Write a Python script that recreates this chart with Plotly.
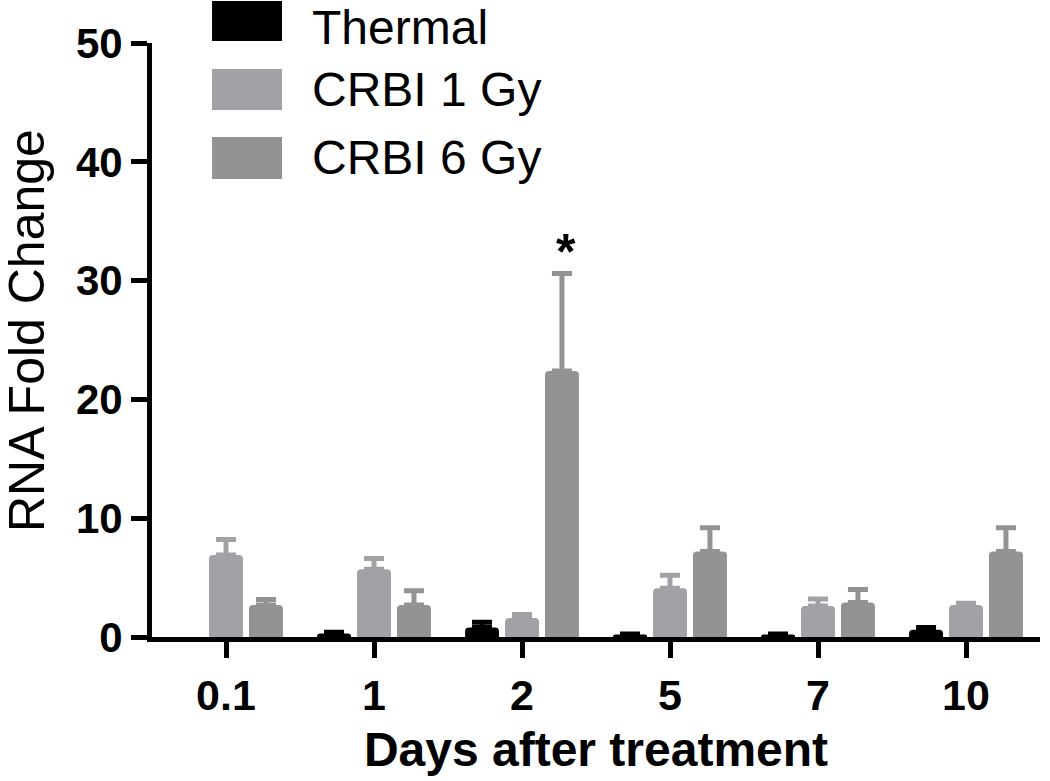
import plotly.graph_objects as go

days = ["0.1", "1", "2", "5", "7", "10"]
series_names = ["Thermal", "CRBI 1 Gy", "CRBI 6 Gy"]
thermal = [None, 0.3, 0.8, 0.2, 0.2, 0.6]
thermal_err = [None, 0.1, 0.45, 0.05, 0.05, 0.2]
crbi1 = [6.9, 5.7, 1.6, 4.1, 2.6, 2.7]
crbi1_err = [1.3, 0.9, 0.3, 1.1, 0.6, 0.15]
crbi6 = [2.7, 2.7, 22.4, 7.2, 2.9, 7.2]
crbi6_err = [0.45, 1.2, 8.2, 2.0, 1.1, 2.0]
colors = ["#000000", "#a2a2a6", "#939393"]
y_title = "RNA Fold Change"
x_title = "Days after treatment"

FONT = "Liberation Sans, Arial, sans-serif"

fig = go.Figure()
for name, vals, errs, col in zip(series_names, [thermal, crbi1, crbi6],
                                 [thermal_err, crbi1_err, crbi6_err], colors):
    fig.add_trace(go.Bar(
        x=days, y=vals, name=name,
        marker=dict(color=col, line=dict(width=0)),
        error_y=dict(type="data", array=errs, arrayminus=[0] * len(errs),
                     symmetric=False, color=col, thickness=5, width=10),
        showlegend=False,
    ))

# custom legend with large swatches
rows_y = [(1.0707, 1.0034), (0.9562, 0.8872), (0.8418, 0.7710)]
for i, (name, col, (y1, y0)) in enumerate(zip(series_names, colors, rows_y)):
    fig.add_shape(type="rect", xref="paper", yref="paper",
                  x0=0.0676, x1=0.1464, y0=y0, y1=y1,
                  fillcolor=col, line=dict(width=0), layer="above")
    fig.add_annotation(xref="paper", yref="paper", x=0.1790, y=(y0 + y1) / 2,
                       text=name, showarrow=False, xanchor="left", yanchor="middle",
                       yshift=-7 if i == 0 else 0, borderpad=0,
                       font=dict(family=FONT, size=48, color="#000000"))

# y-axis title
fig.add_annotation(xref="paper", yref="paper", x=0, y=0.515, xshift=-125,
                   text=y_title, textangle=-90, showarrow=False,
                   xanchor="center", yanchor="middle", borderpad=0,
                   font=dict(family=FONT, size=50, color="#000000"))

# significance marker
fig.add_annotation(x=2.3, y=crbi6[2] + crbi6_err[2], text="<b>*</b>", showarrow=False,
                   yanchor="bottom", yshift=-9,
                   font=dict(family=FONT, size=50, color="#000000"))

fig.update_layout(
    width=1050, height=781,
    margin=dict(l=152, r=10, t=43, b=144),
    paper_bgcolor="white", plot_bgcolor="white",
    barmode="group", bargap=0.19, bargroupgap=0.15,
    barcornerradius=4,
    font=dict(family=FONT, color="#000000"),
)
fig.update_xaxes(
    type="category", range=[-0.5, 5.5],
    showline=True, linecolor="#000000", linewidth=5,
    ticks="outside", ticklen=16, tickwidth=5, tickcolor="#000000",
    tickfont=dict(family=FONT, size=43, color="#000000", weight="bold"),
    title=dict(text="<b>" + x_title + "</b>", font=dict(family=FONT, size=48), standoff=16),
    showgrid=False, zeroline=False,
)
fig.update_yaxes(
    range=[0, 50], tickvals=[0, 10, 20, 30, 40, 50],
    showline=True, linecolor="#000000", linewidth=5,
    ticks="outside", ticklen=16, tickwidth=5, tickcolor="#000000",
    tickfont=dict(family=FONT, size=42, color="#000000", weight="bold"),
    showgrid=False, zeroline=False,
)

fig.write_html("out.html", config={"displayModeBar": False},
               post_script="document.body.style.margin='0';")
